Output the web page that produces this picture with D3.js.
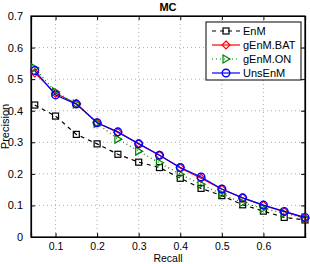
<!DOCTYPE html>
<html>
<head>
<meta charset="utf-8">
<script src="https://cdn.jsdelivr.net/npm/d3@7"></script>
<style>
  body { margin: 0; background: #fff; }
  svg text { font-family: "Liberation Sans", Arial, sans-serif; }
</style>
</head>
<body>
<div id="chart"></div>
<script>
// data
const recall = [0.05, 0.1, 0.15, 0.2, 0.25, 0.3, 0.35, 0.4, 0.45, 0.5, 0.55, 0.6, 0.65, 0.7];
const enm     = [0.418, 0.383, 0.325, 0.295, 0.262, 0.237, 0.220, 0.186, 0.154, 0.131, 0.102, 0.082, 0.062, 0.054];
const genmBat = [0.520, 0.455, 0.423, 0.362, 0.331, 0.296, 0.259, 0.219, 0.186, 0.151, 0.124, 0.100, 0.080, 0.060];
const genmOn  = [0.535, 0.460, 0.421, 0.360, 0.310, 0.272, 0.235, 0.199, 0.167, 0.136, 0.109, 0.090, 0.075, 0.060];
const unsEnm  = [0.527, 0.450, 0.421, 0.362, 0.333, 0.295, 0.259, 0.220, 0.190, 0.152, 0.124, 0.101, 0.081, 0.062];
const xTicks = [0.1, 0.2, 0.3, 0.4, 0.5, 0.6];
const yTicks = [0, 0.1, 0.2, 0.3, 0.4, 0.5, 0.6, 0.7];

const series = [
  { name: "EnM", values: enm, color: "#000", dash: "4,4", marker: "square" },
  { name: "gEnM.BAT", values: genmBat, color: "#ff0000", dash: null, marker: "diamond" },
  { name: "gEnM.ON", values: genmOn, color: "#008000", dash: "1,3", marker: "triangle" },
  { name: "UnsEnM", values: unsEnm, color: "#0000ff", dash: null, marker: "circle" }
];

const W = 310, H = 264;
const margin = { top: 16, right: 5, bottom: 27, left: 31 };
const width = W - margin.left - margin.right;
const height = H - margin.top - margin.bottom;

const svg = d3.select("#chart").append("svg")
    .attr("width", W)
    .attr("height", H);

const g = svg.append("g")
    .attr("transform", "translate(" + margin.left + "," + margin.top + ")");

const x = d3.scaleLinear().domain([0.041, 0.7]).range([0, width]);
const y = d3.scaleLinear().domain([0, 0.7]).range([height, 0]);

// grid
g.selectAll(".vgrid").data(xTicks).enter().append("line")
    .attr("x1", d => x(d)).attr("x2", d => x(d))
    .attr("y1", 0).attr("y2", height)
    .attr("stroke", "#999").attr("stroke-width", 0.8)
    .attr("stroke-dasharray", "1,3");
g.selectAll(".hgrid").data(yTicks.slice(1, -1)).enter().append("line")
    .attr("y1", d => y(d)).attr("y2", d => y(d))
    .attr("x1", 0).attr("x2", width)
    .attr("stroke", "#999").attr("stroke-width", 0.8)
    .attr("stroke-dasharray", "1,3");

// axes (ticks inside, matlab style)
const xAxis = g.append("g")
    .attr("transform", "translate(0," + height + ")")
    .call(d3.axisBottom(x).tickValues(xTicks).tickSize(-4).tickPadding(6).tickFormat(d3.format(".1f")));
g.append("g")
    .call(d3.axisLeft(y).tickValues(yTicks).tickSize(-4).tickPadding(8).tickFormat(d => d === 0 ? "0" : d3.format(".1f")(d)));
g.append("g")
    .attr("transform", "translate(" + width + ",0)")
    .call(d3.axisRight(y).tickValues(yTicks).tickSize(-4).tickFormat(""));
g.append("g")
    .call(d3.axisTop(x).tickValues(xTicks).tickSize(-4).tickFormat(""));

g.selectAll(".domain").attr("stroke", "#000").attr("stroke-width", 1.2);
g.selectAll(".tick text").attr("font-size", 11).attr("fill", "#000");
xAxis.selectAll(".tick text").attr("font-size", 10.5);

// box
g.append("rect")
    .attr("width", width).attr("height", height)
    .attr("fill", "none").attr("stroke", "#000").attr("stroke-width", 1.2);

// markers
function drawMarker(sel, type, color) {
  if (type === "square") {
    sel.append("rect").attr("x", -3).attr("y", -3).attr("width", 6).attr("height", 6)
      .attr("fill", "none").attr("stroke", color).attr("stroke-width", 1.2);
  } else if (type === "diamond") {
    sel.append("path").attr("d", "M0,-4L4,0L0,4L-4,0Z")
      .attr("fill", "none").attr("stroke", color).attr("stroke-width", 1.2);
  } else if (type === "triangle") {
    sel.append("path").attr("d", "M-3,-4L4,0L-3,4Z")
      .attr("fill", "none").attr("stroke", color).attr("stroke-width", 1.2);
  } else {
    sel.append("circle").attr("r", 3.8)
      .attr("fill", "none").attr("stroke", color).attr("stroke-width", 1.4);
  }
}

const line = d3.line()
    .x((d, i) => x(recall[i]))
    .y(d => y(d));

series.forEach(s => {
  g.append("path")
      .datum(s.values)
      .attr("fill", "none")
      .attr("stroke", s.color)
      .attr("stroke-width", 1.2)
      .attr("stroke-dasharray", s.dash)
      .attr("d", line);
  g.selectAll(".pt-" + s.marker)
      .data(s.values)
    .enter().append("g")
      .attr("transform", (d, i) => "translate(" + x(recall[i]) + "," + y(d) + ")")
      .each(function() { drawMarker(d3.select(this), s.marker, s.color); });
});

// title and labels
svg.append("text")
    .attr("x", margin.left + width / 2)
    .attr("y", 11)
    .attr("text-anchor", "middle")
    .attr("font-size", 11)
    .attr("font-weight", "bold")
    .text("MC");

svg.append("text")
    .attr("x", margin.left + width / 2)
    .attr("y", 262)
    .attr("text-anchor", "middle")
    .attr("font-size", 10.5)
    .text("Recall");

svg.append("text")
    .attr("transform", "rotate(-90)")
    .attr("x", -(margin.top + height / 2))
    .attr("y", 9)
    .attr("text-anchor", "middle")
    .attr("font-size", 11)
    .text("Precision");

// legend
const legend = svg.append("g").attr("transform", "translate(206,22)");
legend.append("rect")
    .attr("width", 95).attr("height", 58)
    .attr("fill", "#fff").attr("stroke", "#000").attr("stroke-width", 1);

series.forEach((s, i) => {
  const row = legend.append("g").attr("transform", "translate(0," + (9 + i * 14) + ")");
  row.append("line")
      .attr("x1", 6).attr("x2", 34)
      .attr("stroke", s.color).attr("stroke-width", 1.2)
      .attr("stroke-dasharray", s.dash);
  drawMarker(row.append("g").attr("transform", "translate(20,0)"), s.marker, s.color);
  row.append("text")
      .attr("x", 37).attr("y", 4)
      .attr("font-size", 11)
      .text(s.name);
});
</script>
</body>
</html>
